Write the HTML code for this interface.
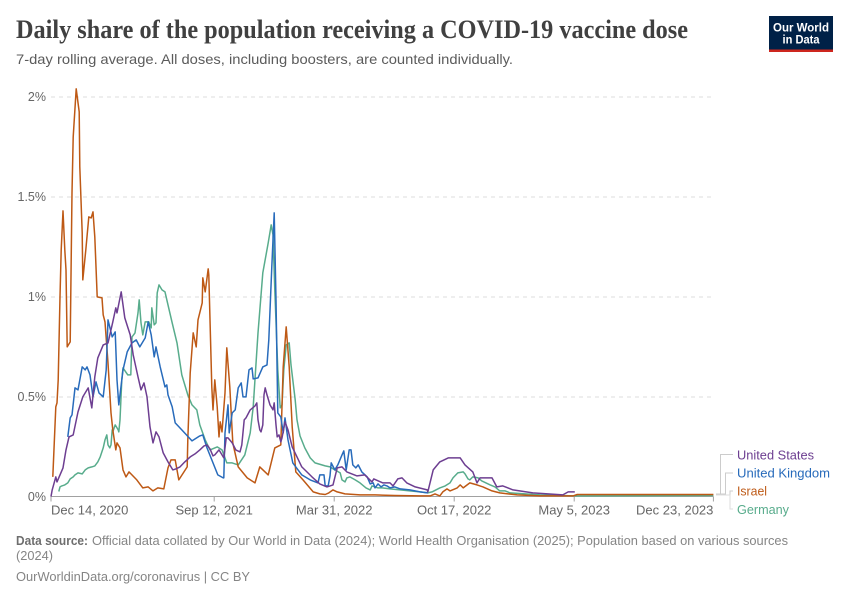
<!DOCTYPE html>
<html lang="en">
<head>
<meta charset="utf-8">
<title>Daily share of the population receiving a COVID-19 vaccine dose</title>
<style>
html,body{margin:0;padding:0;background:#fff;}
svg{display:block;font-family:"Liberation Sans",sans-serif;}
</style>
</head>
<body>
<svg id="chart" width="850" height="600" viewBox="0 0 850 600" xmlns="http://www.w3.org/2000/svg">
  <rect x="0" y="0" width="850" height="600" fill="#fff"/>
  <text x="16" y="38" font-family="'Liberation Serif',serif" font-weight="700" font-size="26" fill="#404040" textLength="672" lengthAdjust="spacingAndGlyphs">Daily share of the population receiving a COVID-19 vaccine dose</text>
  <text x="16" y="64" font-size="14" fill="#5b5b5b" textLength="497" lengthAdjust="spacingAndGlyphs">7-day rolling average. All doses, including boosters, are counted individually.</text>

  <g>
    <rect x="769" y="16" width="64" height="36" fill="#002147"/>
    <rect x="769" y="49.5" width="64" height="2.5" fill="#ce261e"/>
    <text x="801" y="31.5" text-anchor="middle" font-size="11.5" font-weight="700" fill="#fff" textLength="56" lengthAdjust="spacingAndGlyphs">Our World</text>
    <text x="801" y="43.5" text-anchor="middle" font-size="11.5" font-weight="700" fill="#fff" textLength="37" lengthAdjust="spacingAndGlyphs">in Data</text>
  </g>

  <g id="grid"></g>
  <g id="yLabels"></g>
  <g id="xAxis"></g>
  <g id="lines"></g>

  <g fill="none" stroke="#ccc" stroke-width="1">
    <path d="M716 494H720.5V454.5H733"/>
    <path d="M716 494H725.5V473H733"/>
    <path d="M716 495H730V491H733"/>
    <path d="M716 495H730V509H733" stroke="#ddd"/>
  </g>
  <g font-size="12.5">
    <text x="737" y="459.5" fill="#6d3e91" textLength="77" lengthAdjust="spacingAndGlyphs">United States</text>
    <text x="737" y="477.5" fill="#286bbb" textLength="93" lengthAdjust="spacingAndGlyphs">United Kingdom</text>
    <text x="737" y="495.5" fill="#be5915" textLength="30" lengthAdjust="spacingAndGlyphs">Israel</text>
    <text x="737" y="514" fill="#58ac8c" textLength="52" lengthAdjust="spacingAndGlyphs">Germany</text>
  </g>

  <g font-size="13" fill="#858585">
    <text x="16" y="545" font-weight="700" fill="#6e6e6e" textLength="72" lengthAdjust="spacingAndGlyphs">Data source:</text>
    <text x="92" y="545" textLength="696" lengthAdjust="spacingAndGlyphs">Official data collated by Our World in Data (2024); World Health Organisation (2025); Population based on various sources</text>
    <text x="16" y="560" textLength="37" lengthAdjust="spacingAndGlyphs">(2024)</text>
    <text x="16" y="581" textLength="234" lengthAdjust="spacingAndGlyphs">OurWorldinData.org/coronavirus | CC BY</text>
  </g>
</svg>
<script>
// Days since Dec 14, 2020 and percent of population per day.
const yTickValues = [0, 0.5, 1, 1.5, 2];
const yTickLabels = ["0%", "0.5%", "1%", "1.5%", "2%"];
const xTickDays = [0, 272, 472, 672, 872, 1104];
const xTickLabels = ["Dec 14, 2020", "Sep 12, 2021", "Mar 31, 2022", "Oct 17, 2022", "May 5, 2023", "Dec 23, 2023"];

const germanyDays = [13,15,18,23,28,32,37,40,45,52,57,62,68,73,78,82,87,90,93,95,98,100,102,103,107,112,113,115,118,120,128,133,135,140,145,147,150,153,157,163,167,168,172,175,177,180,185,190,195,202,210,218,223,228,235,243,248,257,265,277,285,293,302,312,323,332,337,345,353,362,367,370,373,378,382,385,388,392,397,400,403,407,410,415,423,432,440,457,465,473,482,485,490,493,498,507,515,525,532,535,545,552,565,582,598,615,628,635,648,657,665,670,678,687,690,695,698,703,712,718,732,740,748,757,765,790,815,870,1104];
const germanyValues = [.025,.048,.053,.058,.068,.088,.098,.108,.118,.113,.133,.143,.148,.153,.173,.198,.243,.283,.308,.258,.243,.258,.333,.323,.358,.333,.323,.383,.583,.643,.608,.608,.798,.818,.918,.983,.868,.808,.873,.873,.843,.943,.858,.868,1.018,1.058,1.033,1.023,.958,.868,.768,.608,.558,.508,.458,.433,.358,.283,.233,.248,.233,.168,.168,.158,.208,.318,.448,.818,1.118,1.268,1.358,1.308,1.033,.633,.443,.458,.633,.758,.768,.658,.583,.483,.383,.303,.243,.193,.168,.153,.148,.133,.118,.083,.073,.093,.098,.083,.068,.043,.033,.053,.043,.043,.038,.033,.028,.023,.018,.023,.043,.053,.068,.093,.118,.123,.113,.088,.083,.098,.093,.078,.058,.048,.028,.028,.018,.013,.008,.003,.005];

const israelDays = [3,8,10,12,15,17,20,23,25,27,32,35,37,42,47,48,52,53,58,63,67,70,73,77,85,87,90,95,100,103,108,110,115,120,125,130,143,153,162,170,178,188,195,200,207,213,227,228,232,237,242,245,252,253,257,262,263,268,270,273,277,280,282,285,290,293,298,303,312,327,340,348,362,373,383,387,392,397,402,408,420,437,448,457,463,470,477,490,515,540,573,615,632,640,648,653,660,665,677,682,687,698,710,720,735,748,777,815,870,877,1104];
const israelValues = [.098,.448,.468,.583,.998,1.233,1.428,1.233,1.133,.748,.773,1.518,1.798,2.038,1.923,1.648,1.318,1.083,1.233,1.398,1.393,1.423,1.298,.998,.993,.908,.873,.668,.418,.333,.233,.268,.243,.133,.098,.123,.083,.043,.048,.028,.043,.038,.143,.183,.183,.083,.148,.283,.618,.818,.748,.883,.968,1.093,1.023,1.138,1.108,.548,.433,.583,.448,.298,.373,.323,.518,.743,.548,.268,.148,.093,.068,.148,.108,.243,.258,.648,.848,.648,.348,.123,.083,.023,.013,.01,.018,.033,.023,.013,.008,.008,.005,.003,.003,.013,.003,.023,.038,.028,.043,.058,.043,.068,.058,.048,.028,.018,.008,.003,.003,.01,.01];

const ukDays = [28,32,35,40,45,52,57,60,65,70,75,80,87,92,95,102,107,110,113,120,127,135,142,148,157,162,167,172,175,182,190,193,195,202,207,218,235,248,253,260,268,278,287,288,290,295,297,302,307,312,317,320,325,330,335,337,345,353,360,363,368,372,375,378,383,387,390,395,403,418,432,445,448,455,457,462,465,467,473,478,485,488,492,497,500,503,508,512,518,527,532,537,540,545,550,555,560,565,573,582,598,615,628];
const ukValues = [.298,.393,.408,.543,.533,.648,.633,.648,.608,.498,.573,.518,.498,.633,.883,.798,.823,.583,.458,.633,.723,.768,.783,.748,.793,.873,.808,.698,.748,.648,.548,.558,.508,.448,.368,.333,.278,.303,.308,.243,.183,.108,.093,.093,.318,.458,.318,.418,.433,.543,.568,.498,.498,.633,.643,.588,.593,.648,.658,.783,1.148,1.418,.983,.418,.398,.318,.393,.283,.168,.108,.083,.068,.108,.108,.053,.053,.103,.168,.133,.158,.208,.228,.133,.233,.233,.158,.143,.158,.123,.098,.063,.068,.043,.063,.048,.058,.053,.043,.048,.038,.033,.023,.018];

const usDays = [0,2,8,10,20,25,30,37,45,53,62,68,73,78,87,95,103,108,110,117,123,132,137,145,150,155,160,165,170,175,180,187,195,203,208,215,223,232,240,248,255,260,265,270,273,280,288,292,295,302,308,315,318,322,325,332,340,343,345,348,350,353,355,357,360,365,370,372,375,377,380,383,385,390,395,402,418,435,448,460,470,477,485,493,510,523,535,538,553,565,570,578,585,593,607,627,628,637,648,662,682,690,703,710,715,735,743,753,770,803,853,862,873];
const usValues = [0,.033,.098,.073,.143,.233,.298,.308,.423,.498,.543,.443,.598,.693,.758,.768,.873,.943,.918,1.023,.893,.808,.708,.598,.533,.568,.498,.348,.268,.323,.298,.218,.173,.133,.138,.148,.173,.198,.213,.233,.253,.258,.238,.203,.208,.233,.193,.293,.293,.268,.233,.223,.258,.383,.393,.433,.453,.468,.383,.333,.323,.358,.508,.543,.508,.458,.433,.468,.358,.298,.308,.273,.293,.373,.333,.248,.148,.098,.063,.048,.058,.143,.148,.123,.103,.108,.073,.088,.068,.068,.053,.088,.093,.068,.048,.033,.023,.133,.173,.193,.193,.158,.123,.068,.093,.093,.048,.053,.033,.018,.008,.023,.023];

const seriesNames = ["germany", "israel", "united-kingdom", "united-states"];
const seriesColors = ["#58ac8c", "#be5915", "#286bbb", "#6d3e91"];
const seriesDays = [germanyDays, israelDays, ukDays, usDays];
const seriesValues = [germanyValues, israelValues, ukValues, usValues];

const SVG_NS = "http://www.w3.org/2000/svg";
const xScale = d => 51 + d * 0.6;
const yScale = v => 496.5 - v * 200;

function make(tag, attrs, parent) {
  const el = document.createElementNS(SVG_NS, tag);
  for (const k in attrs) el.setAttribute(k, attrs[k]);
  parent.appendChild(el);
  return el;
}

const grid = document.getElementById("grid");
const yLabels = document.getElementById("yLabels");
const xAxis = document.getElementById("xAxis");
const linesGroup = document.getElementById("lines");

yTickValues.forEach((v, i) => {
  if (v !== 0) {
    const g = make("line", {x1: 51, x2: 711, y1: yScale(v) + 0.5, y2: yScale(v) + 0.5, stroke: "#ddd", "stroke-dasharray": "4,4"}, grid);
    
    
  }
  const t = make("text", {x: 46, y: yScale(v) + 4.5, "text-anchor": "end", "font-size": 12.5, fill: "#666"}, yLabels);
  t.textContent = yTickLabels[i];
  
  
});

const baseline = make("line", {x1: 51, x2: 713.4, y1: yScale(0), y2: yScale(0), stroke: "#a1a1a1"}, xAxis);



xTickDays.forEach((d, i) => {
  const x = xScale(d);
  const tick = make("line", {x1: x, x2: x, y1: yScale(0), y2: yScale(0) + 5, stroke: "#a1a1a1"}, xAxis);
  
  
  const anchor = i === 0 ? "start" : (i === xTickDays.length - 1 ? "end" : "middle");
  const t = make("text", {x: x, y: 514.5, "text-anchor": anchor, "font-size": 13, fill: "#666"}, xAxis);
  t.textContent = xTickLabels[i];
  
  
});

seriesNames.forEach((name, s) => {
  const days = seriesDays[s];
  const values = seriesValues[s];
  const d = days.map((day, i) => (i ? "L" : "M") + xScale(day).toFixed(1) + " " + yScale(values[i]).toFixed(1)).join("");
  const p = make("path", {d: d, fill: "none", stroke: seriesColors[s], "stroke-width": 1.5, "stroke-linejoin": "round"}, linesGroup);
  
  
});
</script>
</body>
</html>
